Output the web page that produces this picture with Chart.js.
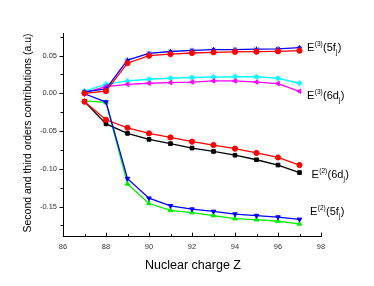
<!DOCTYPE html>
<html>
<head>
<meta charset="utf-8">
<script src="https://cdn.jsdelivr.net/npm/chart.js@4/dist/chart.umd.min.js"></script>
<style>
  html, body { margin: 0; padding: 0; background: #fff; }
  #wrap { width: 374px; height: 286px; }
</style>
</head>
<body>
<div id="wrap"><canvas id="chart"></canvas></div>
<script>
const charges = [87, 88, 89, 90, 91, 92, 93, 94, 95, 96, 97];

const e3_5f_blue = [0.002, 0.006, 0.044, 0.053, 0.0555, 0.057, 0.058, 0.058, 0.0585, 0.059, 0.0605];
const e3_5f_red = [0.000, 0.003, 0.040, 0.050, 0.052, 0.0535, 0.0544, 0.055, 0.0553, 0.0557, 0.0566];
const e3_6d_cyan = [0.003, 0.012, 0.0165, 0.0187, 0.020, 0.021, 0.0216, 0.022, 0.022, 0.020, 0.0134];
const e3_6d_magenta = [0.001, 0.009, 0.012, 0.0134, 0.0143, 0.015, 0.0165, 0.0165, 0.015, 0.013, 0.0027];
const e2_6d_red = [-0.011, -0.035, -0.0456, -0.053, -0.0584, -0.064, -0.0685, -0.0733, -0.079, -0.085, -0.095];
const e2_6d_black = [-0.011, -0.0405, -0.053, -0.061, -0.0667, -0.0725, -0.077, -0.082, -0.088, -0.095, -0.105];
const e2_5f_blue = [-0.0005, -0.0116, -0.113, -0.139, -0.149, -0.1535, -0.1565, -0.16, -0.162, -0.164, -0.167];
const e2_5f_green = [-0.010, -0.012, -0.120, -0.146, -0.155, -0.158, -0.162, -0.166, -0.1675, -0.1695, -0.173];

const xTicks = [86, 88, 90, 92, 94, 96, 98];
const yTicks = [0.05, 0.00, -0.05, -0.10, -0.15];

// curve labels: [superscript, inner text, subscript, y value of baseline]
const curveLabels = [
  ["(3)", "(5f", "j", 0.0557],
  ["(3)", "(6d", "j", -0.0076],
  ["(2)", "(6d", "j", -0.1124],
  ["(2)", "(5f", "j", -0.1611]
];

function points(values) {
  return charges.map((z, i) => ({ x: z, y: values[i] }));
}

function series(values, color, style, rotation, order) {
  return {
    data: points(values),
    borderColor: color,
    backgroundColor: color,
    borderWidth: 1.3,
    pointStyle: style,
    pointRotation: rotation,
    pointRadius: 2.6,
    pointBorderWidth: 1,
    pointBorderColor: color,
    pointBackgroundColor: color,
    tension: 0,
    order: order
  };
}

const decorations = {
  id: "decorations",
  afterDraw(chart) {
    const ctx = chart.ctx;
    const xs = chart.scales.x;
    const ys = chart.scales.y;
    const left = chart.chartArea.left;
    const bottom = chart.chartArea.bottom;
    ctx.save();
    ctx.strokeStyle = "#000";
    ctx.lineWidth = 1;
    ctx.beginPath();
    for (let z = 86; z <= 98; z++) {
      const px = Math.round(xs.getPixelForValue(z)) + 0.5;
      const len = z % 2 === 0 ? 4 : 2.5;
      ctx.moveTo(px, bottom);
      ctx.lineTo(px, bottom - len);
    }
    for (let k = -7; k <= 3; k++) {
      const v = k * 0.025;
      const py = Math.round(ys.getPixelForValue(v)) + 0.5;
      const len = k % 2 === 0 ? 3.5 : 2.5;
      ctx.moveTo(left, py);
      ctx.lineTo(left - len, py);
    }
    ctx.stroke();

    ctx.fillStyle = "#000";
    ctx.textBaseline = "alphabetic";
    ctx.textAlign = "center";
    ctx.font = "12.5px 'Liberation Sans', Arial, sans-serif";
    ctx.fillText("Nuclear charge Z", (xs.getPixelForValue(92) + 1), 269);

    ctx.save();
    ctx.translate(31, 133);
    ctx.rotate(-Math.PI / 2);
    ctx.font = "10.5px 'Liberation Sans', Arial, sans-serif";
    ctx.fillText("Second and third orders contributions (a.u)", 0, 0);
    ctx.restore();

    ctx.textAlign = "left";
    const startX = [307, 307, 311.5, 310];
    curveLabels.forEach((lab, i) => {
      let x = startX[i];
      const y = ys.getPixelForValue(lab[3]);
      ctx.font = "11px 'Liberation Sans', Arial, sans-serif";
      ctx.fillText("E", x, y);
      x += ctx.measureText("E").width + 0.5;
      ctx.font = "6.5px 'Liberation Sans', Arial, sans-serif";
      ctx.fillText(lab[0], x, y - 5);
      x += ctx.measureText(lab[0]).width + 0.3;
      ctx.font = "11px 'Liberation Sans', Arial, sans-serif";
      ctx.fillText(lab[1], x, y);
      x += ctx.measureText(lab[1]).width;
      ctx.font = "6.5px 'Liberation Sans', Arial, sans-serif";
      ctx.fillText(lab[2], x, y + 3);
      x += ctx.measureText(lab[2]).width + 0.3;
      ctx.font = "11px 'Liberation Sans', Arial, sans-serif";
      ctx.fillText(")", x, y);
    });
    ctx.restore();
  }
};

new Chart(document.getElementById("chart"), {
  type: "line",
  data: {
    datasets: [
      series(e3_5f_blue, "#0000ff", "star", 0, 6),
      series(e3_5f_red, "#ff0000", "circle", 0, 1),
      series(e3_6d_cyan, "#00ffff", "rectRot", 0, 8),
      series(e3_6d_magenta, "#ff00ff", "triangle", -90, 7),
      series(e2_6d_black, "#000000", "rect", 0, 4),
      series(e2_6d_red, "#ff0000", "circle", 0, 3),
      series(e2_5f_green, "#00ee00", "triangle", 0, 5),
      series(e2_5f_blue, "#0000ff", "triangle", 180, 2)
    ]
  },
  options: {
    responsive: true,
    maintainAspectRatio: false,
    animation: false,
    layout: { padding: { left: 0, top: 33, right: 53, bottom: 0 } },
    plugins: {
      legend: { display: false },
      tooltip: { enabled: false }
    },
    scales: {
      x: {
        type: "linear",
        min: 86,
        max: 98,
        afterBuildTicks(scale) {
          scale.ticks = xTicks.map(v => ({ value: v }));
        },
        afterFit(scale) { scale.height = 49.3; },
        grid: { display: false, drawTicks: false },
        border: { display: true, color: "#000", width: 1 },
        ticks: {
          padding: 6,
          color: "#333",
          font: { size: 7.5, family: "'Liberation Sans', Arial, sans-serif" },
          callback: v => String(v)
        }
      },
      y: {
        type: "linear",
        min: -0.19,
        max: 0.08,
        afterBuildTicks(scale) {
          scale.ticks = yTicks.map(v => ({ value: v }));
        },
        afterFit(scale) { scale.width = 63; },
        grid: { display: false, drawTicks: false },
        border: { display: true, color: "#000", width: 1 },
        ticks: {
          padding: 6,
          color: "#333",
          font: { size: 7.5, family: "'Liberation Sans', Arial, sans-serif" },
          callback: v => v.toFixed(2)
        }
      }
    }
  },
  plugins: [decorations]
});
</script>
</body>
</html>
